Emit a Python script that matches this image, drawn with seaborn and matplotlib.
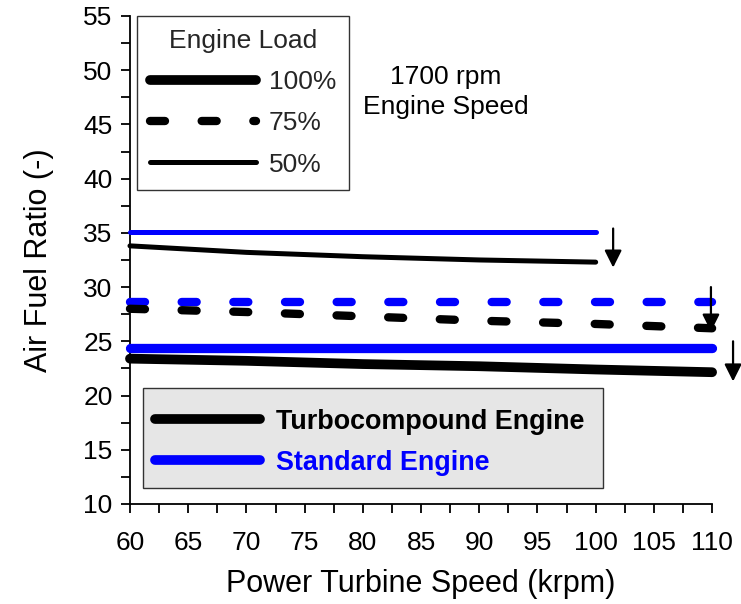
import matplotlib
matplotlib.use("Agg")
import matplotlib.pyplot as plt
from matplotlib.lines import Line2D
from matplotlib.patches import Rectangle
from matplotlib.ticker import MultipleLocator
import seaborn as sns
import pandas as pd

# Power turbine speed (krpm)
speed_full = [60, 70, 80, 90, 100, 110]
speed_short = [60, 70, 80, 90, 100]

# Air fuel ratio, turbocompound engine
turbo_100 = [23.4, 23.2, 22.9, 22.7, 22.4, 22.15]
turbo_75 = [28.0, 27.7, 27.3, 26.9, 26.6, 26.2]
turbo_50 = [33.8, 33.2, 32.8, 32.5, 32.3]

# Air fuel ratio, standard engine
std_100 = [24.4, 24.4, 24.4, 24.4, 24.4, 24.4]
std_75 = [28.6, 28.6, 28.6, 28.6, 28.6, 28.6]
std_50 = [35.1, 35.1, 35.1, 35.1, 35.1]

load_labels = ["100%", "75%", "50%"]
engine_labels = ["Turbocompound Engine", "Standard Engine"]

# Arrows marking the drop from standard to turbocompound (x, y_start, y_end)
arrow_x = [101.5, 109.9, 111.8]
arrow_y0 = [35.4, 30.0, 25.0]
arrow_y1 = [31.8, 25.9, 21.3]

sns.set_theme(style="ticks")
plt.rcParams["font.family"] = ["Liberation Sans", "DejaVu Sans"]

fig = plt.figure(figsize=(7.41, 6.04), dpi=100)
ax = fig.add_axes([0.1754, 0.1656, 0.7856, 0.808])

BLUE = "#0000ff"
dash = (0, (1.8, 4.4))
styles = {
    "100": dict(lw=7.0, ls="-"),
    "75": dict(lw=6.0, ls=dash),
    "50": dict(lw=3.6, ls="-"),
}

series = [
    (speed_short, std_50, BLUE, "50"),
    (speed_short, turbo_50, "black", "50"),
    (speed_full, std_75, BLUE, "75"),
    (speed_full, turbo_75, "black", "75"),
    (speed_full, std_100, BLUE, "100"),
    (speed_full, turbo_100, "black", "100"),
]

for xs, ys, col, load in series:
    df = pd.DataFrame({"speed": xs, "afr": ys})
    st = styles[load]
    lw = st["lw"] if not (col == BLUE and load == "100") else 6.7
    sns.lineplot(data=df, x="speed", y="afr", ax=ax, color=col,
                 linewidth=lw, linestyle=st["ls"], dash_capstyle="round",
                 solid_capstyle="round", clip_on=False, zorder=3)

for xa, ya0, ya1 in zip(arrow_x, arrow_y0, arrow_y1):
    ax.annotate("", xy=(xa, ya1), xytext=(xa, ya0),
                arrowprops=dict(arrowstyle="-|>", mutation_scale=26, lw=1.6,
                                color="black", shrinkA=0, shrinkB=0),
                annotation_clip=False, zorder=4)

ax.set_xlim(60, 110)
ax.set_ylim(10, 55)
ax.xaxis.set_major_locator(MultipleLocator(5))
ax.xaxis.set_minor_locator(MultipleLocator(2.5))
ax.yaxis.set_major_locator(MultipleLocator(5))
ax.yaxis.set_minor_locator(MultipleLocator(2.5))
for s in ["top", "right"]:
    ax.spines[s].set_visible(False)
for s in ["left", "bottom"]:
    ax.spines[s].set_linewidth(1.3)
    ax.spines[s].set_color("black")
ax.tick_params(which="both", direction="out", length=6.5, width=1.3,
               color="black", labelsize=19, labelcolor="black")
ax.tick_params(axis="x", pad=13)
ax.tick_params(axis="y", pad=6)
ax.set_xlabel("Power Turbine Speed (krpm)", fontsize=22, labelpad=10, color="black")
ax.set_ylabel("Air Fuel Ratio (-)", fontsize=22, labelpad=21, color="black")

# Engine load legend
load_handles = [
    Line2D([], [], color="black", lw=7.0, solid_capstyle="round"),
    Line2D([], [], color="black", lw=6.0, ls=dash, dash_capstyle="round"),
    Line2D([], [], color="black", lw=3.6, solid_capstyle="round"),
]
leg1 = ax.legend(load_handles, load_labels, title="Engine Load",
                 loc="upper left", bbox_to_anchor=(0.012, 1.0),
                 fontsize=19, title_fontsize=19, handlelength=4.0,
                 handletextpad=0.5, labelspacing=0.65, borderpad=0.5,
                 borderaxespad=0.0,
                 frameon=True, fancybox=False, edgecolor="#333333",
                 framealpha=1)
leg1.get_frame().set_linewidth(1.0)
ax.add_artist(leg1)

ax.text(87.1, 48.0, "1700 rpm\nEngine Speed", fontsize=19, ha="center",
        va="center", linespacing=1.3, color="black")

# Engine type legend: grey panel behind a frameless legend
ax.add_patch(Rectangle((0.0223, 0.0328), 0.790, 0.205, transform=ax.transAxes,
                       facecolor="#e6e6e6", edgecolor="#333333", lw=1.0,
                       zorder=4.5, clip_on=False))
eng_handles = [
    Line2D([], [], color="black", lw=7.0, solid_capstyle="round"),
    Line2D([], [], color=BLUE, lw=7.0, solid_capstyle="round"),
]
leg2 = ax.legend(eng_handles, engine_labels, loc="lower left",
                 bbox_to_anchor=(0.022, 0.033), fontsize=19.4,
                 handlelength=3.9, handletextpad=0.6, labelspacing=0.55,
                 borderpad=0.45, borderaxespad=0.0, frameon=False)
leg2.set_zorder(5)
for txt, col in zip(leg2.get_texts(), ["black", BLUE]):
    txt.set_color(col)
    txt.set_fontweight("bold")

fig.savefig("out.png", dpi=100)
